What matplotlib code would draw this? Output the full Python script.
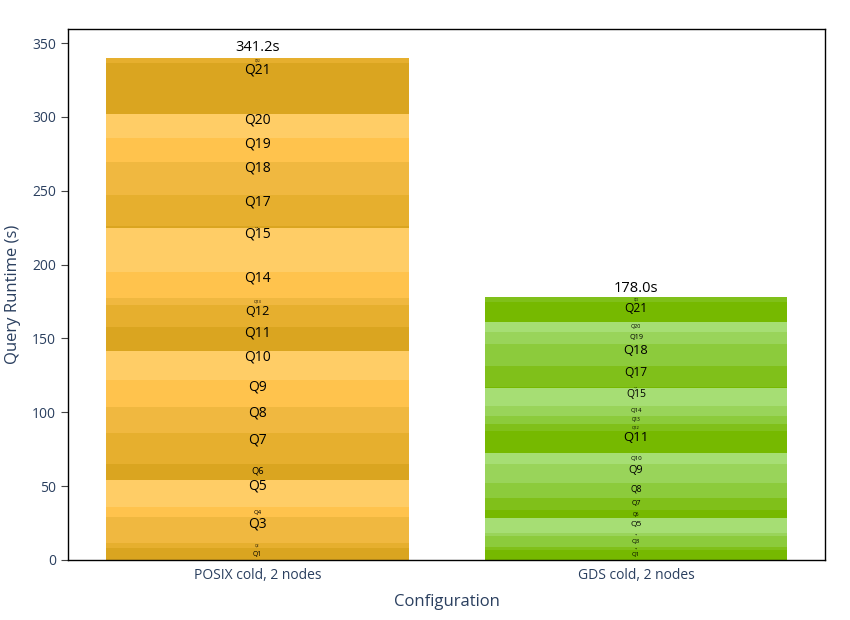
import numpy as np
from matplotlib import pyplot as plt

plt.rcParams['font.family'] = ['Open Sans', 'DejaVu Sans']

configs = ["POSIX cold, 2 nodes", "GDS cold, 2 nodes"]
queries = ["Q%d" % i for i in range(1, 23)]
# per-query runtime (s), Q1..Q22
posix = [7.9, 3.8, 17.2, 6.8, 18.5, 10.8, 20.8, 18.0, 18.1, 19.8, 16.3,
         14.6, 4.6, 18.0, 29.8, 1.2, 21.0, 22.5, 16.3, 16.2, 34.4, 3.5]
gds = [6.8, 2.2, 7.2, 2.3, 9.7, 5.7, 8.3, 10.1, 12.7, 7.2, 15.3,
       4.6, 5.4, 6.8, 12.0, 1.0, 14.0, 14.9, 8.4, 6.3, 14.0, 3.1]
totals = [341.2, 178.0]

gold = ["#DAA520", "#E6AF2E", "#F0B840", "#FFC34D", "#FFCD66"]
green = ["#76B900", "#80C01A", "#8CCB3C", "#99D45A", "#A6DE74"]

fig = plt.figure(figsize=(8.5, 6.2), dpi=100)
ax = fig.add_axes([0.08, 0.097, 0.891, 0.856])

for xi, (vals, pal) in enumerate([(posix, gold), (gds, green)]):
    bottom = 0
    for qi, v in enumerate(vals):
        ax.bar(xi, v, 0.8, bottom=bottom, color=pal[qi % 5], linewidth=0)
        fs = float(np.clip(v * 0.62, 1.5, 10))
        ax.text(xi, bottom + v - min(v * 0.5, 4.5), queries[qi], ha="center",
                va="center", fontsize=fs, color="black")
        bottom += v
    ax.text(xi, totals[xi] + 1, "%.1fs" % totals[xi], ha="center",
            va="bottom", fontsize=10.5, color="black")

ax.set_xlim(-0.5, 1.5)
ax.set_ylim(0, 359.5)
ax.set_xticks([0, 1])
ax.set_xticklabels(configs)
ax.set_yticks(range(0, 351, 50))
ax.tick_params(colors="#2a3f5f", labelsize=10)
ax.tick_params(axis="x", length=0, pad=6)
ax.tick_params(axis="y", color="#444444", length=5)
for s in ax.spines.values():
    s.set_color("black")
    s.set_linewidth(1)
ax.set_xlabel("Configuration", fontsize=12, color="#2a3f5f", labelpad=8)
ax.set_ylabel("Query Runtime (s)", fontsize=12, color="#2a3f5f", labelpad=8)

fig.savefig("out.png")
